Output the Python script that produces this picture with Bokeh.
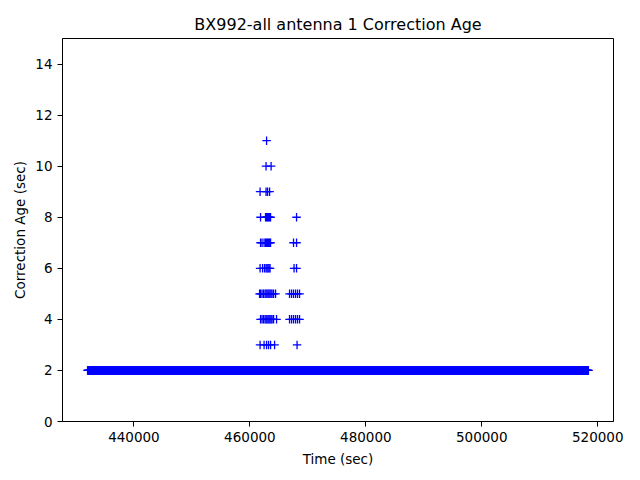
import numpy as np
from bokeh.plotting import figure
from bokeh.models import Range1d, FixedTicker, BasicTickFormatter
from bokeh.embed import file_html
from bokeh.resources import INLINE

# --- data ---
day_start = 432000
day_end = 518400
sample_step = 60
baseline_age = 2

spike_times = {
    11: [462880],
    10: [462790, 463660],
    9: [461760, 462790, 463050, 463400],
    8: [461840, 462700, 462880, 463050, 463220, 463400, 463570, 468050],
    7: [461840, 462100, 462450, 462700, 462880, 463050, 463220, 463400, 463570, 467530, 468050],
    6: [461760, 462190, 462530, 462790, 462960, 463140, 463310, 463480, 467620, 468050],
    5: [461670, 461840, 462100, 462360, 462620, 462790, 462960, 463140, 463310, 463480,
        463660, 463830, 464090, 464430, 466840, 467190, 467530, 467880, 468220, 468570],
    4: [461840, 462100, 462360, 462620, 462790, 462960, 463140, 463310, 463480, 463660,
        463830, 464090, 464600, 466840, 467190, 467530, 467880, 468220, 468570],
    3: [461760, 462450, 462880, 463220, 463570, 464260, 468140],
}

x_ticks = [440000, 460000, 480000, 500000, 520000]
y_ticks = [0, 2, 4, 6, 8, 10, 12, 14]

base_t = np.arange(day_start, day_end + 1, sample_step)
base_v = np.full(len(base_t), baseline_age)

sp_t = []
sp_v = []
for age, ts in spike_times.items():
    sp_t.extend(ts)
    sp_v.extend([age] * len(ts))

times = np.concatenate([base_t, np.array(sp_t)])
ages = np.concatenate([base_v, np.array(sp_v)])

span = day_end - day_start
p = figure(
    width=632, height=472,
    min_border_left=62, min_border_right=19, min_border_top=38, min_border_bottom=51,
    output_backend="svg", toolbar_location=None,
    x_range=Range1d(day_start - 0.05 * span, day_end + 0.05 * span),
    y_range=Range1d(0, 15),
    title="BX992-all antenna 1 Correction Age",
)

p.scatter(times, ages, marker="cross", size=8.5, line_width=1.3, line_color="#0000ff")

font = "DejaVu Sans"
p.title.text_font = font
p.title.text_font_size = "16px"
p.title.text_font_style = "normal"
p.title.text_color = "black"
p.title.align = "center"
p.title.offset = 0

p.xgrid.visible = False
p.ygrid.visible = False
p.outline_line_color = "black"
p.outline_line_width = 1
p.background_fill_color = "white"
p.border_fill_color = "white"

for ax in (p.xaxis[0], p.yaxis[0]):
    ax.axis_line_color = "black"
    ax.major_tick_line_color = "black"
    ax.major_tick_out = 5
    ax.major_tick_in = 0
    ax.minor_tick_line_color = None
    ax.major_label_text_font = font
    ax.major_label_text_font_size = "13.5px"
    ax.major_label_text_color = "black"
    ax.axis_label_text_font = font
    ax.axis_label_text_font_size = "13.5px"
    ax.axis_label_text_font_style = "normal"
    ax.axis_label_text_color = "black"
    ax.major_label_standoff = 5

p.xaxis.ticker = FixedTicker(ticks=x_ticks)
p.yaxis.ticker = FixedTicker(ticks=y_ticks)
p.xaxis.formatter = BasicTickFormatter(use_scientific=False)
p.xaxis.axis_label = "Time (sec)"
p.yaxis.axis_label = "Correction Age (sec)"
p.xaxis.axis_label_standoff = 6
p.yaxis.axis_label_standoff = 4

open("out.html", "w").write(file_html(p, INLINE))
